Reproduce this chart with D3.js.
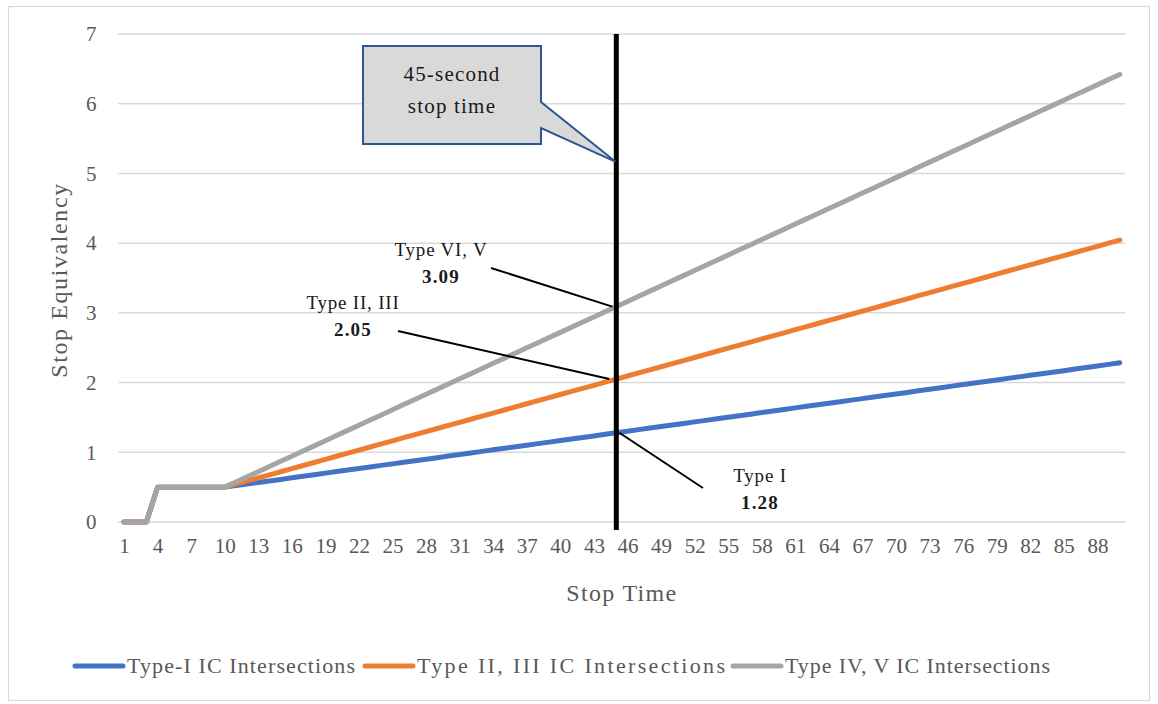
<!DOCTYPE html>
<html>
<head>
<meta charset="utf-8">
<script src="https://cdn.jsdelivr.net/npm/d3@7"></script>
<style>
  html, body { margin: 0; padding: 0; background: #fff; }
  svg { display: block; }
  text { font-family: "Liberation Serif", "Times New Roman", serif; }
</style>
</head>
<body>
<svg id="chart" width="1158" height="704"></svg>
<script>
// Stop time in seconds (category axis)
const stopTimes = d3.range(1, 91);

// Stop equivalency by intersection type
const typeI = [
  0, 0, 0, 0.5, 0.5, 0.5, 0.5, 0.5, 0.5, 0.5,
  0.522, 0.545, 0.567, 0.589, 0.611, 0.634, 0.656, 0.678, 0.701, 0.723,
  0.745, 0.767, 0.790, 0.812, 0.834, 0.857, 0.879, 0.901, 0.923, 0.946,
  0.968, 0.990, 1.013, 1.035, 1.057, 1.079, 1.102, 1.124, 1.146, 1.169,
  1.191, 1.213, 1.235, 1.258, 1.280, 1.302, 1.325, 1.347, 1.369, 1.391,
  1.414, 1.436, 1.458, 1.481, 1.503, 1.525, 1.547, 1.570, 1.592, 1.614,
  1.637, 1.659, 1.681, 1.703, 1.726, 1.748, 1.770, 1.793, 1.815, 1.837,
  1.859, 1.882, 1.904, 1.926, 1.949, 1.971, 1.993, 2.015, 2.038, 2.060,
  2.082, 2.105, 2.127, 2.149, 2.171, 2.194, 2.216, 2.238, 2.261, 2.283
];
const typeII_III = [
  0, 0, 0, 0.5, 0.5, 0.5, 0.5, 0.5, 0.5, 0.5,
  0.544, 0.589, 0.633, 0.677, 0.721, 0.766, 0.810, 0.854, 0.899, 0.943,
  0.987, 1.031, 1.076, 1.120, 1.164, 1.209, 1.253, 1.297, 1.341, 1.386,
  1.430, 1.474, 1.519, 1.563, 1.607, 1.651, 1.696, 1.740, 1.784, 1.829,
  1.873, 1.917, 1.961, 2.006, 2.050, 2.094, 2.139, 2.183, 2.227, 2.271,
  2.316, 2.360, 2.404, 2.449, 2.493, 2.537, 2.581, 2.626, 2.670, 2.714,
  2.759, 2.803, 2.847, 2.891, 2.936, 2.980, 3.024, 3.069, 3.113, 3.157,
  3.201, 3.246, 3.290, 3.334, 3.379, 3.423, 3.467, 3.511, 3.556, 3.600,
  3.644, 3.689, 3.733, 3.777, 3.821, 3.866, 3.910, 3.954, 3.999, 4.043
];
const typeIV_V = [
  0, 0, 0, 0.5, 0.5, 0.5, 0.5, 0.5, 0.5, 0.5,
  0.574, 0.648, 0.722, 0.796, 0.870, 0.944, 1.018, 1.092, 1.166, 1.240,
  1.314, 1.388, 1.462, 1.536, 1.610, 1.684, 1.758, 1.832, 1.906, 1.980,
  2.054, 2.128, 2.202, 2.276, 2.350, 2.424, 2.498, 2.572, 2.646, 2.720,
  2.794, 2.868, 2.942, 3.016, 3.090, 3.164, 3.238, 3.312, 3.386, 3.460,
  3.534, 3.608, 3.682, 3.756, 3.830, 3.904, 3.978, 4.052, 4.126, 4.200,
  4.274, 4.348, 4.422, 4.496, 4.570, 4.644, 4.718, 4.792, 4.866, 4.940,
  5.014, 5.088, 5.162, 5.236, 5.310, 5.384, 5.458, 5.532, 5.606, 5.680,
  5.754, 5.828, 5.902, 5.976, 6.050, 6.124, 6.198, 6.272, 6.346, 6.420
];

const seriesNames = ["Type-I IC Intersections", "Type II, III IC Intersections", "Type IV, V IC Intersections"];
const seriesColors = ["#4472c4", "#ed7d31", "#a5a5a5"];
const seriesValues = [typeI, typeII_III, typeIV_V];

const yTicks = [0, 1, 2, 3, 4, 5, 6, 7];
const xTickLabels = stopTimes.filter((d, i) => i % 3 === 0);

// Reference stop time and the labelled intersections
const markerTime = 45;
const labelTitles = ["Type I", "Type II, III", "Type VI, V"];
const labelValues = [1.28, 2.05, 3.09];

const svg = d3.select("#chart");
const plot = { left: 118.4, right: 1125.4, top: 34, bottom: 522 };

// outer chart border
svg.append("rect")
  .attr("x", 8.5).attr("y", 6.5).attr("width", 1141).attr("height", 694)
  .attr("fill", "#fff").attr("stroke", "#d9d9d9").attr("stroke-width", 1.2);

const x = d3.scalePoint().domain(stopTimes).range([plot.left, plot.right]).padding(0.5);
const y = d3.scaleLinear().domain([0, 7]).range([plot.bottom, plot.top]);

// horizontal gridlines
svg.append("g").selectAll("line").data(yTicks).join("line")
  .attr("x1", plot.left).attr("x2", plot.right)
  .attr("y1", d => y(d)).attr("y2", d => y(d))
  .attr("stroke", "#d9d9d9").attr("stroke-width", 1.5);

// y axis labels
const yAxis = svg.append("g")
  .attr("transform", `translate(${plot.left},0)`)
  .call(d3.axisLeft(y).tickValues(yTicks).tickSize(0).tickPadding(22).tickFormat(d3.format("d")));
yAxis.select(".domain").remove();
yAxis.selectAll("text").attr("font-size", 21).attr("fill", "#595959")
  .style("font-family", "'Liberation Serif', serif");

// x axis labels, every third stop time
const xAxis = svg.append("g")
  .attr("transform", `translate(0,${plot.bottom})`)
  .call(d3.axisBottom(x).tickValues(xTickLabels).tickSize(0).tickPadding(16));
xAxis.select(".domain").remove();
xAxis.selectAll("text").attr("font-size", 21).attr("fill", "#595959")
  .style("font-family", "'Liberation Serif', serif");

// axis titles
svg.append("text")
  .attr("x", (plot.left + plot.right) / 2).attr("y", 601)
  .attr("text-anchor", "middle").attr("font-size", 24).attr("fill", "#595959")
  .attr("letter-spacing", 1.3)
  .text("Stop Time");
svg.append("text")
  .attr("transform", `translate(67,${(plot.top + plot.bottom) / 2 + 2}) rotate(-90)`)
  .attr("text-anchor", "middle").attr("font-size", 24).attr("fill", "#595959")
  .attr("letter-spacing", 1.6)
  .text("Stop Equivalency");

// series lines
const line = d3.line()
  .x((d, i) => x(stopTimes[i]))
  .y(d => y(d));
svg.append("g").selectAll("path").data(seriesValues).join("path")
  .attr("d", d => line(d))
  .attr("fill", "none")
  .attr("stroke", (d, i) => seriesColors[i])
  .attr("stroke-width", 5)
  .attr("stroke-linejoin", "round")
  .attr("stroke-linecap", "round");

// vertical marker at 45 s
const mx = x(markerTime);
svg.append("line")
  .attr("x1", mx).attr("x2", mx)
  .attr("y1", y(7)).attr("y2", plot.bottom + 8)
  .attr("stroke", "#000").attr("stroke-width", 5);

// callout box pointing at the marker
const tipY = y(5.17);
const box = { x0: 363, x1: 541, y0: 46, y1: 144 };
svg.append("path")
  .attr("d", `M${box.x0},${box.y0}H${box.x1}V102L${mx - 1},${tipY}L${box.x1},128V${box.y1}H${box.x0}Z`)
  .attr("fill", "#d9d9d9").attr("stroke", "#2f5597").attr("stroke-width", 2)
  .attr("stroke-linejoin", "miter");
svg.append("text").attr("x", 452).attr("y", 81)
  .attr("text-anchor", "middle").attr("font-size", 21).attr("fill", "#1a1a1a")
  .attr("letter-spacing", 1.2).text("45-second");
svg.append("text").attr("x", 452).attr("y", 113)
  .attr("text-anchor", "middle").attr("font-size", 21).attr("fill", "#1a1a1a")
  .attr("letter-spacing", 1.2).text("stop time");

// value labels at the 45 s intersections
const labelLayout = [
  { tx: 760, ty: 482, lx: 703, ly: 488, ex: 3 },
  { tx: 353, ty: 309, lx: 398, ly: 331, ex: -7 },
  { tx: 441, ty: 256, lx: 491, ly: 268, ex: -4 }
];
const idx45 = stopTimes.indexOf(markerTime);
labelTitles.forEach((title, i) => {
  const L = labelLayout[i];
  const px = mx + L.ex;
  const py = y(seriesValues[i][idx45]);
  svg.append("line")
    .attr("x1", L.lx).attr("y1", L.ly).attr("x2", px).attr("y2", py)
    .attr("stroke", "#000").attr("stroke-width", 2);
  svg.append("text").attr("x", L.tx).attr("y", L.ty)
    .attr("text-anchor", "middle").attr("font-size", 19).attr("fill", "#1a1a1a")
    .attr("letter-spacing", 0.8).text(title);
  svg.append("text").attr("x", L.tx).attr("y", L.ty + 27)
    .attr("text-anchor", "middle").attr("font-size", 19).attr("font-weight", "bold")
    .attr("fill", "#1a1a1a").attr("letter-spacing", 1.2)
    .text(d3.format(".2f")(labelValues[i]));
});

// legend
const legendX = [72, 362, 730];
const legendTextWidth = [228, 308, 265];
const legend = svg.append("g");
seriesNames.forEach((name, i) => {
  const g = legend.append("g").attr("transform", `translate(${legendX[i]},666)`);
  g.append("line").attr("x1", 3).attr("x2", 51).attr("y1", 0).attr("y2", 0)
    .attr("stroke", seriesColors[i]).attr("stroke-width", 5).attr("stroke-linecap", "round");
  g.append("text").attr("x", 55).attr("y", 7)
    .attr("font-size", 22).attr("fill", "#595959")
    .attr("textLength", legendTextWidth[i]).attr("lengthAdjust", "spacing")
    .text(name);
});
</script>
</body>
</html>
